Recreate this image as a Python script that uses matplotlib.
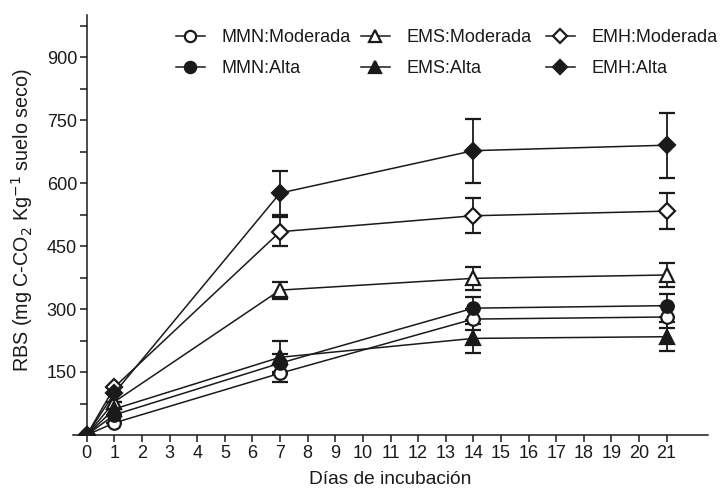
import numpy as np
import matplotlib as mpl
import matplotlib.pyplot as plt
from matplotlib.lines import Line2D
from matplotlib.ticker import MultipleLocator, FuncFormatter

mpl.rcParams['font.family'] = ['Liberation Sans', 'DejaVu Sans']
mpl.rcParams['font.size'] = 13

dias = [0, 1, 7, 14, 21]

# RBS means and error bars per treatment
mmn_mod = [0, 29, 147, 276, 281]
mmn_mod_err = [0, 0, 20, 25, 26]
mmn_alta = [0, 48, 171, 302, 308]
mmn_alta_err = [0, 0, 22, 27, 28]
ems_mod = [0, 79, 345, 373, 381]
ems_mod_err = [0, 0, 20, 27, 28]
ems_alta = [0, 62, 185, 230, 234]
ems_alta_err = [0, 0, 40, 35, 35]
emh_mod = [0, 114, 484, 522, 533]
emh_mod_err = [0, 0, 35, 42, 43]
emh_alta = [0, 100, 576, 677, 690]
emh_alta_err = [0, 0, 52, 76, 77]

ink = '#1a1a1a'

series = [
    ('MMN:Moderada', mmn_mod, mmn_mod_err, 'o', 'white', 9),
    ('MMN:Alta', mmn_alta, mmn_alta_err, 'o', ink, 9),
    ('EMS:Moderada', ems_mod, ems_mod_err, '^', 'white', 10),
    ('EMS:Alta', ems_alta, ems_alta_err, '^', ink, 10),
    ('EMH:Moderada', emh_mod, emh_mod_err, 'D', 'white', 8),
    ('EMH:Alta', emh_alta, emh_alta_err, 'D', ink, 8),
]

W, H = 724, 488
fig = plt.figure(figsize=(W / 100, H / 100), dpi=100)
ax = fig.add_axes([73 / W, 1 - 435 / H, 635 / W, 420 / H])

handles = []
for name, y, err, mk, face, ms in series:
    style = dict(color=ink, linewidth=1.1, marker=mk, markersize=ms,
                 markerfacecolor=face, markeredgecolor=ink,
                 markeredgewidth=1.6)
    ax.errorbar(dias, y, yerr=err, ecolor=ink, elinewidth=1.3,
                capsize=5.5, capthick=1.3, zorder=3, **style)
    handles.append(Line2D([], [], label=name, **style))

ax.set_xlim(-0.5, 22.5)
ax.set_ylim(0, 1000)
ax.spines['top'].set_visible(False)
ax.spines['right'].set_visible(False)
ax.spines['left'].set_position(('data', 0))
for sp in ('left', 'bottom'):
    ax.spines[sp].set_color(ink)
    ax.spines[sp].set_linewidth(1.1)

ax.set_xticks(range(0, 22))
ax.yaxis.set_major_locator(MultipleLocator(75))
ax.yaxis.set_major_formatter(
    FuncFormatter(lambda v, p: '%d' % v if v > 0 and v % 150 == 0 else ''))
ax.tick_params(direction='out', length=5, width=1.1, color=ink,
               labelcolor=ink, labelsize=13, pad=2)

ax.set_xlabel('Días de incubación', fontsize=13.8, color=ink, labelpad=7)
ax.set_ylabel('RBS (mg C-CO$_2$ Kg$^{-1}$ suelo seco)', fontsize=14.2,
              color=ink)
ax.yaxis.set_label_coords(-0.060, 0.512)

# one legend column per soil type
for i, x0 in enumerate([176, 361, 546]):
    leg = fig.legend(handles=handles[2 * i:2 * i + 2], loc='upper left',
                     bbox_to_anchor=(x0 / W, 1 - 29 / H), frameon=False,
                     borderpad=0, borderaxespad=0, handlelength=1.6,
                     handletextpad=0.9, labelspacing=0.8, markerscale=0.9,
                     fontsize=13)
    for t in leg.get_texts():
        t.set_color(ink)

fig.savefig('out.png', dpi=100)
